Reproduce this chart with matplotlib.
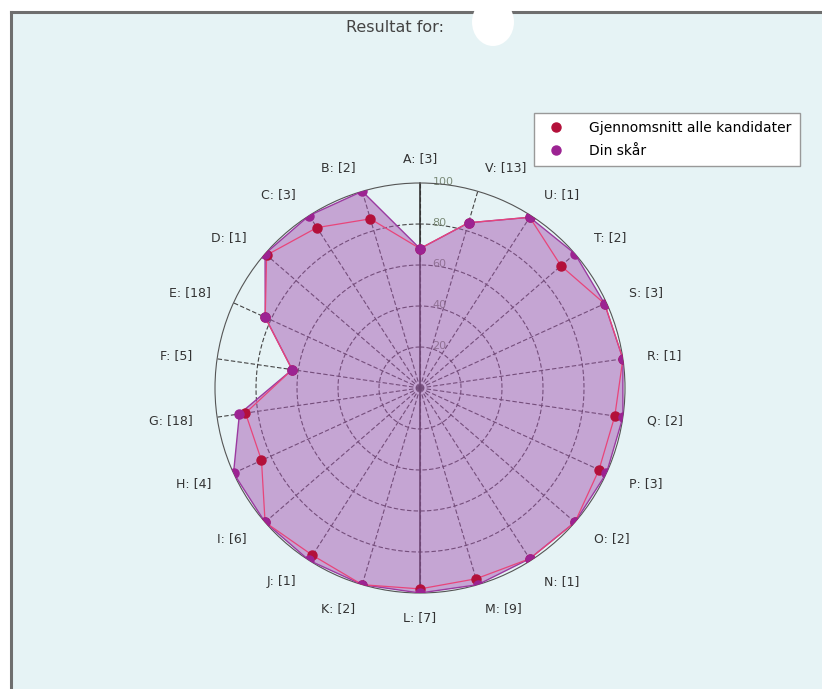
import numpy as np
import matplotlib.pyplot as plt
from matplotlib.lines import Line2D
from matplotlib.patches import Rectangle, Ellipse

categories = ['A', 'B', 'C', 'D', 'E', 'F', 'G', 'H', 'I', 'J', 'K',
              'L', 'M', 'N', 'O', 'P', 'Q', 'R', 'S', 'T', 'U', 'V']
counts = [3, 2, 3, 1, 18, 5, 18, 4, 6, 1, 2, 7, 9, 1, 2, 3, 2, 1, 3, 2, 1, 13]
avg_all = [68, 86, 93, 99, 83, 63, 86, 85, 100, 97, 100,
           98, 97, 99, 100, 96, 96, 100, 99, 91, 99, 84]
my_score = [68, 100, 100, 100, 83, 63, 89, 100, 100, 100, 100,
            100, 100, 99, 100, 100, 100, 100, 99, 100, 99, 84]
rings = [20, 40, 60, 80, 100]

W, H = 822, 689
fig = plt.figure(figsize=(W / 100, H / 100), dpi=100)
fig.patch.set_facecolor('white')

# panel background and frame lines
fig.add_artist(Rectangle((12 / W, 0), 1, 1 - 12 / H, transform=fig.transFigure,
                         facecolor='#e6f3f5', edgecolor='none', zorder=0))
fig.add_artist(Line2D([11 / W, 1], [1 - 12 / H, 1 - 12 / H], transform=fig.transFigure,
                      color='#6e6e6e', lw=2.2))
fig.add_artist(Line2D([11 / W, 11 / W], [0, 1 - 12 / H], transform=fig.transFigure,
                      color='#6e6e6e', lw=2.2))
fig.add_artist(Ellipse((493 / W, 1 - 22 / H), 42 / W, 48 / H, transform=fig.transFigure,
                       facecolor='white', edgecolor='none', zorder=3))
fig.text(395 / W, 1 - 28 / H, 'Resultat for:', ha='center', va='center',
         fontsize=11.5, color='#444444')

cx, cy, R = 420, 388, 205
ax = fig.add_axes([(cx - R) / W, (H - cy - R) / H, 2 * R / W, 2 * R / H],
                  projection='polar')
ax.set_facecolor('none')
ax.set_theta_zero_location('N')
ax.set_theta_direction(1)
ax.set_ylim(0, 100)
ax.grid(False)
ax.set_xticks([])
ax.set_yticks([])
ax.spines['polar'].set_color('#555555')
ax.spines['polar'].set_linewidth(0.8)

n = len(categories)
theta = np.arange(n) * 2 * np.pi / n
tt = np.linspace(0, 2 * np.pi, 361)

# grid
for r in rings[:-1]:
    ax.plot(tt, np.full_like(tt, r), color='#444444', lw=0.8, ls=(0, (4, 2)), zorder=1)
for t in theta:
    ax.plot([t, t], [0, 100], color='#444444', lw=0.8, ls=(0, (4, 2)), zorder=1)
ax.plot([0, 0], [0, 100], color='#333333', lw=1.2, zorder=1)
ax.plot([np.pi, np.pi], [0, 100], color='#333333', lw=1.2, zorder=1)
for r in rings:
    ax.annotate(str(r), (0, r), xytext=(9, 1), textcoords='offset points',
                ha='left', va='center', fontsize=8, color='#7b8b78', zorder=2)

th = np.append(theta, theta[0])
ms = np.append(my_score, my_score[0])
av = np.append(avg_all, avg_all[0])
ax.fill(th, ms, color='#a558b2', alpha=0.5, zorder=3, lw=0)
ax.plot(th, ms, color='#9b3aa0', lw=1.0, zorder=4)
ax.plot(th, av, color='#e8457a', lw=0.9, zorder=4)
ax.plot(theta, avg_all, ls='none', marker='o', ms=6.5, color='#b3103a', zorder=5)
ax.plot(theta, my_score, ls='none', marker='o', ms=6.5, color='#9c2392', zorder=6)

for t, c, k in zip(theta, categories, counts):
    s = -np.sin(t)
    ha = 'center' if abs(s) < 0.2 else ('left' if s > 0 else 'right')
    ax.text(t, 112, f'{c}: [{k}]', ha=ha, va='center', fontsize=9,
            color='#333333', clip_on=False)

handles = [Line2D([], [], ls='none', marker='o', ms=6.5, color='#b3103a'),
           Line2D([], [], ls='none', marker='o', ms=6.5, color='#9c2392')]
fig.legend(handles, ['Gjennomsnitt alle kandidater', 'Din skår'],
           loc='upper right', bbox_to_anchor=(800 / W, 1 - 113 / H),
           fontsize=10, frameon=True, fancybox=False, edgecolor='#999999',
           facecolor='white', framealpha=1, borderpad=0.6, handletextpad=1.4,
           labelspacing=0.6, borderaxespad=0)

fig.savefig('out.png', dpi=100)
